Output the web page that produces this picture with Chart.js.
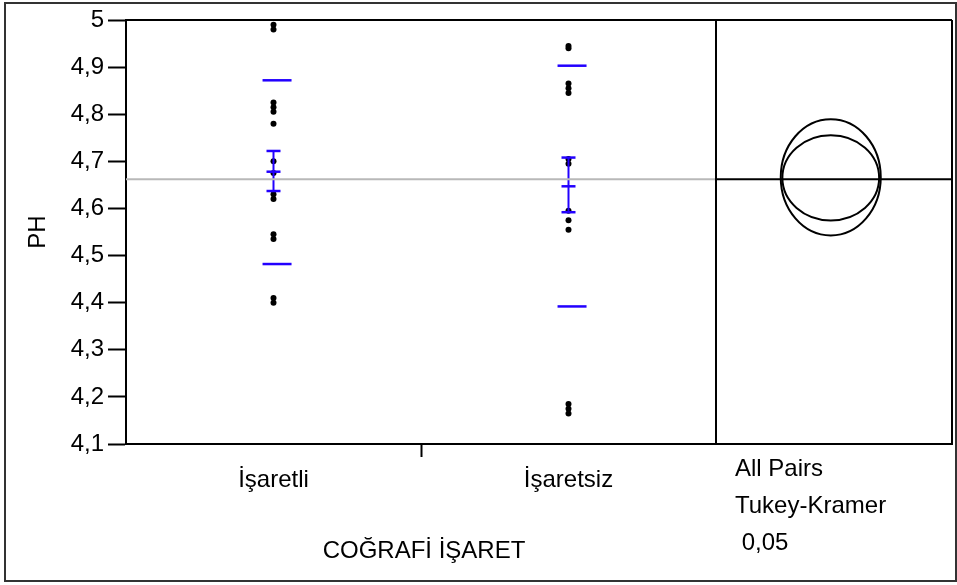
<!DOCTYPE html>
<html><head><meta charset="utf-8">
<script src="https://cdn.jsdelivr.net/npm/chart.js@4.4.0/dist/chart.umd.min.js"></script>
<style>html,body{margin:0;padding:0;background:#fff}#wrap{width:957px;height:585px;position:relative}</style>
</head><body><div id="wrap"><canvas id="c" width="957" height="585"></canvas></div>
<script>
// ---- data ----
const categories = ['İşaretli', 'İşaretsiz'];
const categoryX = [0.5, 1.5];
const isaretliPH = [4.99, 4.98, 4.825, 4.815, 4.805, 4.78, 4.70, 4.675, 4.63, 4.62, 4.545, 4.535, 4.41, 4.40];
const isaretsizPH = [4.945, 4.94, 4.865, 4.855, 4.845, 4.705, 4.695, 4.595, 4.575, 4.555, 4.185, 4.175, 4.165];
const groupMeans = [4.678, 4.647];
const ciLower = [4.637, 4.592];
const ciUpper = [4.722, 4.708];
const sdLower = [4.482, 4.392];
const sdUpper = [4.872, 4.903];
const grandMean = 4.662;
const yTicks = [4.1, 4.2, 4.3, 4.4, 4.5, 4.6, 4.7, 4.8, 4.9, 5];
const yTickLabels = ['4,1', '4,2', '4,3', '4,4', '4,5', '4,6', '4,7', '4,8', '4,9', '5'];
const xTicks = [0.5, 1, 1.5];
const circleCenterX = 2.389;
const circleCenterY = [4.666, 4.665];
const circleRadiusY = [0.1234, 0.0904];
const circleRadiusX = [0.1695, 0.164];
const panelText = ['All Pairs', 'Tukey-Kramer', ' 0,05'];
const xTitle = 'COĞRAFİ İŞARET';
const yTitle = 'PH';

const BLUE = '#2200ff';
const FONT = 'Liberation Sans, Arial, sans-serif';
const FS = 24;

const groups = [isaretliPH, isaretsizPH];
const datasets = [];
datasets.push({type: 'line', data: [{x: 0, y: grandMean}, {x: 2, y: grandMean}], borderColor: '#b8b8b8', borderWidth: 2, pointRadius: 0});
datasets.push({type: 'line', data: [{x: 2, y: grandMean}, {x: 2.8, y: grandMean}], borderColor: '#000', borderWidth: 2, pointRadius: 0});
groups.forEach((vals, i) => {
  datasets.push({type: 'line', data: [{x: categoryX[i], y: ciLower[i]}, {x: categoryX[i], y: ciUpper[i]}], borderColor: BLUE, borderWidth: 2, pointRadius: 0});
  datasets.push({type: 'scatter', data: [ciLower[i], ciUpper[i], groupMeans[i]].map(v => ({x: categoryX[i], y: v})), pointStyle: 'line', pointRadius: 7, borderColor: BLUE, borderWidth: 2.5});
  datasets.push({type: 'scatter', data: [sdLower[i], sdUpper[i]].map(v => ({x: categoryX[i] + 0.012, y: v})), pointStyle: 'line', pointRadius: 14.5, borderColor: BLUE, borderWidth: 2.5});
  datasets.push({type: 'scatter', data: vals.map(v => ({x: categoryX[i], y: v})), pointRadius: 3, backgroundColor: '#000', borderWidth: 0});
});

const decor = {
  id: 'decor',
  afterDraw(chart) {
    const {ctx, chartArea: a, scales: {x, y}} = chart;
    ctx.save();
    ctx.strokeStyle = '#000';
    ctx.lineWidth = 2;
    ctx.beginPath();
    ctx.moveTo(a.left, a.top); ctx.lineTo(a.right, a.top);
    ctx.moveTo(a.right, a.top); ctx.lineTo(a.right, a.bottom);
    const sx = x.getPixelForValue(2);
    ctx.moveTo(sx, a.top); ctx.lineTo(sx, a.bottom);
    ctx.stroke();
    // comparison circles
    const cx = x.getPixelForValue(circleCenterX);
    circleCenterY.forEach((cy, i) => {
      const py = y.getPixelForValue(cy);
      const ry = Math.abs(y.getPixelForValue(cy + circleRadiusY[i]) - py);
      const rx = Math.abs(x.getPixelForValue(circleCenterX + circleRadiusX[i]) - cx);
      ctx.beginPath();
      ctx.ellipse(cx, py, rx, ry, 0, 0, Math.PI * 2);
      ctx.stroke();
    });
    // outer frame
    ctx.strokeStyle = '#333';
    ctx.strokeRect(5, 3, 951, 578);
    // texts
    ctx.fillStyle = '#000';
    ctx.font = FS + 'px ' + FONT;
    ctx.textBaseline = 'alphabetic';
    ctx.textAlign = 'center';
    ctx.fillText(xTitle, x.getPixelForValue(1) + 3, 558);
    ctx.textAlign = 'left';
    panelText.forEach((t, i) => ctx.fillText(t, sx + 19, 476 + i * 37));
    ctx.restore();
  }
};

new Chart(document.getElementById('c'), {
  data: {datasets},
  options: {
    responsive: false,
    animation: false,
    events: [],
    layout: {autoPadding: false, padding: {top: 20, right: 5, left: 0, bottom: 0}},
    plugins: {legend: {display: false}, tooltip: {enabled: false}},
    scales: {
      x: {
        type: 'linear', min: 0, max: 2.8,
        afterBuildTicks: s => { s.ticks = xTicks.map(v => ({value: v})); },
        afterFit: s => { s.height = 141; s.paddingLeft = 0; s.paddingRight = 0; },
        ticks: {
          autoSkip: false, maxRotation: 0, color: '#000', padding: 9,
          font: {family: FONT, size: FS},
          callback: v => { const i = categoryX.indexOf(v); return i >= 0 ? categories[i] : ''; }
        },
        grid: {drawOnChartArea: false, drawTicks: true, tickLength: 13, tickWidth: 2,
          tickColor: c => (c.tick && c.tick.value === 1) ? '#000' : 'rgba(0,0,0,0)'},
        border: {display: true, color: '#000', width: 2}
      },
      y: {
        type: 'linear', min: 4.1, max: 5,
        afterBuildTicks: s => { s.ticks = yTicks.map(v => ({value: v})); },
        afterFit: s => { s.width = 126; s.paddingTop = 0; s.paddingBottom = 0; },
        ticks: {
          color: '#000', padding: 4, font: {family: FONT, size: FS},
          callback: v => { const i = yTicks.findIndex(t => Math.abs(t - v) < 1e-9); return i >= 0 ? yTickLabels[i] : ''; }
        },
        grid: {drawOnChartArea: false, drawTicks: true, tickLength: 18, tickWidth: 2, tickColor: '#000'},
        border: {display: true, color: '#000', width: 2},
        title: {display: true, text: yTitle, color: '#000', font: {family: FONT, size: FS}, padding: {top: 24, bottom: 0}}
      }
    }
  },
  plugins: [decor]
});
</script>
</body></html>
